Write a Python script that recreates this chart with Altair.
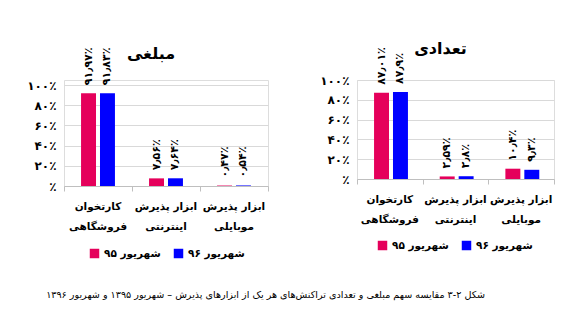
import altair as alt
import pandas as pd

FONT = "DejaVu Sans"

cat_line1 = ["کارتخوان", "ابزار پذیرش", "ابزار پذیرش"]
cat_line2 = ["فروشگاهی", "اینترنتی", "موبایلی"]
categories = ["c1", "c2", "c3"]
series = ["شهریور ۹۵", "شهریور ۹۶"]
amount_95 = [91.97, 7.56, 0.47]
amount_96 = [91.83, 7.64, 0.54]
count_95 = [87.01, 2.59, 10.4]
count_96 = [87.9, 2.8, 9.3]
amount_labels_95 = ["۹۱٫۹۷٪", "۷٫۵۶٪", "۰٫۴۷٪"]
amount_labels_96 = ["۹۱٫۸۳٪", "۷٫۶۴٪", "۰٫۵۴٪"]
count_labels_95 = ["۸۷٫۰۱٪", "۲٫۵۹٪", "۱۰٫۴٪"]
count_labels_96 = ["۸۷٫۹٪", "۲٫۸٪", "۹٫۳٪"]
colors = ["#E5005B", "#0000FF"]
title_amount = "مبلغی"
title_count = "تعدادی"
caption = "شکل ۲-۳ مقایسه سهم مبلغی و تعدادی تراکنش‌های هر یک از ابزارهای پذیرش – شهریور ۱۳۹۵ و شهریور ۱۳۹۶"


def frame(v95, v96, l95, l96):
    rows = []
    for i, c in enumerate(categories):
        rows.append({"cat": c, "series": series[0], "value": v95[i] / 100, "label": l95[i]})
        rows.append({"cat": c, "series": series[1], "value": v96[i] / 100, "label": l96[i]})
    return pd.DataFrame(rows)


cats_df = pd.DataFrame({"cat": categories, "l1": cat_line1, "l2": cat_line2})

ylabel_expr = ("datum.value == 1 ? '۱۰۰٪' : datum.value == 0.8 ? '۸۰٪' : datum.value == 0.6 ? '۶۰٪' : "
               "datum.value == 0.4 ? '۴۰٪' : datum.value == 0.2 ? '۲۰٪' : '٪'")


def panel(df, title, w, h, ymax, legend_x, legend_y, title_offset):
    x = alt.X("cat:N", sort=categories, title=None,
              scale=alt.Scale(domain=categories, paddingInner=0, paddingOuter=0),
              axis=alt.Axis(labels=False, tickBand="extent", tickColor="#bfbfbf", tickSize=5,
                            domainColor="#bfbfbf", grid=False))
    y = alt.Y("value:Q", title=None,
              scale=alt.Scale(domain=[0, ymax]),
              axis=alt.Axis(values=[0, 0.2, 0.4, 0.6, 0.8, 1], labelExpr=ylabel_expr,
                            labelFont=FONT, labelFontSize=12, labelFontWeight="bold",
                            labelColor="#000", labelPadding=8, ticks=False, domain=False,
                            gridColor="#d9d9d9"))
    xoff = alt.XOffset("series:N", sort=series,
                       scale=alt.Scale(paddingInner=0.21, paddingOuter=0.9))
    base = alt.Chart(df).encode(x=x, xOffset=xoff, y=y)
    bars = base.mark_bar().encode(
        color=alt.Color("series:N", sort=series, title=None,
                        scale=alt.Scale(domain=series, range=colors),
                        legend=alt.Legend(orient="none", legendX=legend_x, legendY=legend_y,
                                          direction="horizontal",
                                          symbolType="square", symbolSize=90,
                                          labelFont=FONT, labelFontSize=10.5,
                                          labelFontWeight="bold", labelColor="#000",
                                          columnPadding=12))
    )
    text = base.mark_text(angle=270, align="left", baseline="middle", dx=8,
                          font=FONT, fontSize=11, fontWeight="bold", color="#000").encode(
        text="label:N")
    catbase = alt.Chart(cats_df).encode(x=alt.X("cat:N", sort=categories))
    line1 = catbase.mark_text(align="center", baseline="middle", font=FONT, fontSize=10.5,
                              fontWeight="bold", color="#000").encode(
        y=alt.value(h + 21), text="l1:N")
    line2 = catbase.mark_text(align="center", baseline="middle", font=FONT, fontSize=10.5,
                              fontWeight="bold", color="#000").encode(
        y=alt.value(h + 41), text="l2:N")
    return alt.layer(bars, text, line1, line2).properties(
        width=w, height=h,
        title=alt.TitleParams(title, font=FONT, fontSize=16, fontWeight="bold",
                              color="#000", offset=title_offset, anchor="middle",
                              frame="group", dx=-15),
    )


left = panel(frame(amount_95, amount_96, amount_labels_95, amount_labels_96),
             title_amount, 204, 106, 1.05, 25, 168, -15)
right = panel(frame(count_95, count_96, count_labels_95, count_labels_96),
              title_count, 197, 99, 1.0, 20, 160, -10)

chart = alt.hconcat(left, right, spacing=50).resolve_scale(
    color="independent").resolve_legend(color="independent").properties(
    title=alt.TitleParams(caption, orient="bottom", font=FONT, fontSize=9.6, fontWeight="normal",
                          color="#000", anchor="middle", offset=30, dx=-25),
    padding={"left": 26, "top": 40, "right": 10, "bottom": 10},
).configure_view(stroke=None).configure(background="white")

chart.save("out.html", embed_options={"renderer": "svg", "actions": False})
